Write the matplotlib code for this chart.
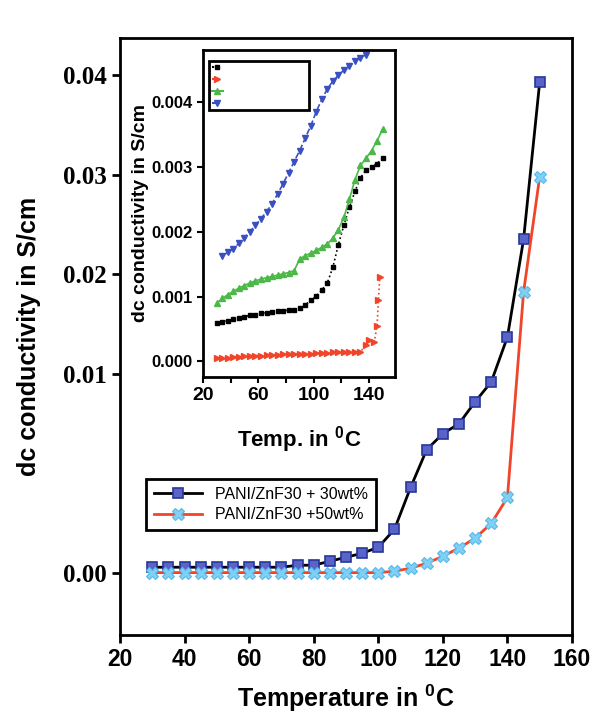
import numpy as np
import matplotlib
matplotlib.use("Agg")
import matplotlib.pyplot as plt
from matplotlib.lines import Line2D

plt.rcParams['mathtext.fontset'] = 'custom'
plt.rcParams['mathtext.bf'] = 'Liberation Sans:bold'
plt.rcParams['mathtext.rm'] = 'Liberation Sans:bold'

# main plot data
temp = [30, 35, 40, 45, 50, 55, 60, 65, 70, 75, 80, 85, 90, 95, 100,
        105, 110, 115, 120, 125, 130, 135, 140, 145, 150]
cond_30 = [0.0003, 0.0003, 0.0003, 0.0003, 0.0003, 0.0003, 0.0003, 0.0003,
           0.0003, 0.0004, 0.0004, 0.0006, 0.0008, 0.0010, 0.0013, 0.0022,
           0.0043, 0.0062, 0.0070, 0.0075, 0.0086, 0.0096, 0.0137, 0.0235,
           0.0393]
cond_50 = [0.00003, 0.00003, 0.00003, 0.00003, 0.00003, 0.00003, 0.00003,
           0.00003, 0.00003, 0.00003, 0.00003, 0.00003, 0.00003, 0.00003,
           0.00003, 0.0001, 0.00025, 0.0005, 0.00085, 0.00126, 0.00176,
           0.0025, 0.0038, 0.0182, 0.0298]
labels_main = ['PANI/ZnF30 + 30wt%', 'PANI/ZnF30 +50wt%']

# inset data
t_blue = [34, 38, 42, 46, 50, 54, 58, 62, 66, 70, 74, 78, 82, 86, 90, 94,
          98, 102, 106, 110, 114, 118, 122, 126, 130, 134, 138]
c_blue = [0.00163, 0.00168, 0.00174, 0.00182, 0.00191, 0.00200, 0.00210,
          0.00220, 0.00231, 0.00243, 0.00258, 0.00274, 0.00291, 0.00308,
          0.00325, 0.00344, 0.00363, 0.00385, 0.00404, 0.00420, 0.00432,
          0.00441, 0.00449, 0.00456, 0.00463, 0.00468, 0.00473]
t_gb = [30, 34, 38, 42, 46, 50, 54, 58, 62, 66, 70, 74, 78, 82, 86, 90, 94,
        98, 102, 106, 110, 114, 118, 122, 126, 130, 134, 138, 142, 146, 150]
c_green = [0.00090, 0.00097, 0.00103, 0.00108, 0.00113, 0.00117, 0.00121,
           0.00124, 0.00127, 0.00129, 0.00131, 0.00133, 0.00135, 0.00137,
           0.00140, 0.00158, 0.00163, 0.00167, 0.00171, 0.00176, 0.00181,
           0.00190, 0.00203, 0.00222, 0.00250, 0.00280, 0.00302, 0.00313,
           0.00325, 0.00340, 0.00358]
c_black = [0.00059, 0.00061, 0.00063, 0.00065, 0.00067, 0.00069, 0.00071,
           0.00072, 0.00074, 0.00075, 0.00076, 0.00077, 0.00078, 0.00079,
           0.00080, 0.00083, 0.00087, 0.00094, 0.00101, 0.00110, 0.00121,
           0.00145, 0.00180, 0.00210, 0.00238, 0.00262, 0.00283, 0.00295,
           0.00300, 0.00305, 0.00313]
t_red = [30, 34, 38, 42, 46, 50, 54, 58, 62, 66, 70, 74, 78, 82, 86, 90, 94,
         98, 102, 106, 110, 114, 118, 122, 126, 130, 134, 138, 140, 144,
         146, 147, 148]
c_red = [0.00005, 0.00006, 0.00006, 0.00007, 0.00007, 0.00008, 0.00008,
         0.00009, 0.00009, 0.00010, 0.00010, 0.00010, 0.00011, 0.00011,
         0.00011, 0.00012, 0.00012, 0.00012, 0.00013, 0.00013, 0.00013,
         0.00014, 0.00014, 0.00014, 0.00015, 0.00015, 0.00015, 0.00025,
         0.00033, 0.00030, 0.00055, 0.00095, 0.00130]


# the reference y axis has a wider step between 0.00 and 0.01
def fwd(y):
    y = np.asarray(y, dtype=float)
    return np.where(y < 0.01, 2 * y, y + 0.01)


def inv(z):
    z = np.asarray(z, dtype=float)
    return np.where(z < 0.02, z / 2, z - 0.01)


fig = plt.figure(figsize=(5.92, 7.22), dpi=100)
ax = fig.add_axes([120 / 592, (722 - 635) / 722, 452 / 592, 597 / 722])
ax.set_yscale('function', functions=(fwd, inv))

ax.plot(temp, cond_30, color='black', lw=2, marker='s', ms=7,
        mfc='#5a64c8', mec='#28379a', mew=1.2, label=labels_main[0])
ax.plot(temp, cond_50, color='#f0452a', lw=2, marker='X', ms=9,
        mfc='#7fd0f4', mec='#5bb8e8', mew=0.8, label=labels_main[1])

ax.set_xlim(20, 160)
ax.set_ylim(-0.0031, 0.0437)
ax.set_xticks([20, 40, 60, 80, 100, 120, 140, 160])
ax.set_yticks([0.0, 0.01, 0.02, 0.03, 0.04])
ax.set_yticklabels(['0.00', '0.01', '0.02', '0.03', '0.04'])
ax.minorticks_off()
for s in ax.spines.values():
    s.set_linewidth(2)
ax.tick_params(direction='out', length=6, width=2)
for lab in ax.get_xticklabels():
    lab.set_family('Liberation Sans')
    lab.set_fontweight('bold')
    lab.set_fontsize(16.5)
for lab in ax.get_yticklabels():
    lab.set_family('Liberation Serif')
    lab.set_fontweight('bold')
    lab.set_fontsize(18)
ax.set_xlabel(r'Temperature in $^{\mathbf{0}}$C', family='Liberation Sans',
              fontweight='bold', fontsize=18, labelpad=8)
ax.set_ylabel('dc conductivity in S/cm', family='Liberation Sans',
              fontweight='bold', fontsize=18, labelpad=16)

leg = ax.legend(loc='lower left', bbox_to_anchor=(0.04, 0.162),
                prop={'family': 'Liberation Sans', 'size': 11.5},
                fancybox=False, edgecolor='black', framealpha=1,
                handlelength=3.0, borderpad=0.5, labelspacing=0.35)
leg.get_frame().set_linewidth(2)

# inset
ins = fig.add_axes([203 / 592, (722 - 377) / 722, 192 / 592, 327 / 722])
ins.plot(t_gb, c_black, color='black', lw=1.2, ls=':', marker='s', ms=3)
ins.plot(t_red, c_red, color='#f0452a', lw=1.2, ls=':', marker='>', ms=4)
ins.plot(t_gb, c_green, color='#4cb848', lw=1.2, marker='^', ms=5)
ins.plot(t_blue, c_blue, color='#3a50c0', lw=1.2, ls='--', marker='v', ms=5)
ins.set_xlim(20, 159)
ins.set_ylim(-0.00024, 0.0048)
ins.set_xticks([20, 40, 60, 80, 100, 120, 140])
ins.set_xticklabels(['20', '', '60', '', '100', '', '140'])
ins.set_yticks([0.0, 0.001, 0.002, 0.003, 0.004])
ins.set_yticklabels(['0.000', '0.001', '0.002', '0.003', '0.004'])
for s in ins.spines.values():
    s.set_linewidth(2)
ins.tick_params(direction='out', length=4, width=1.5)
for lab in ins.get_xticklabels():
    lab.set_family('Liberation Sans')
    lab.set_fontweight('bold')
    lab.set_fontsize(14)
for lab in ins.get_yticklabels():
    lab.set_family('Liberation Sans')
    lab.set_fontweight('bold')
    lab.set_fontsize(12)
ins.set_xlabel(r'Temp. in $^{\mathbf{0}}$C', family='Liberation Sans',
               fontweight='bold', fontsize=16, labelpad=14)
ins.set_ylabel('dc conductivity in S/cm', family='Liberation Sans',
               fontweight='bold', fontsize=14, labelpad=2)

handles = [
    Line2D([], [], color='black', ls=':', marker='s', ms=3),
    Line2D([], [], color='#f0452a', ls=':', marker='>', ms=4),
    Line2D([], [], color='#4cb848', marker='^', ms=5),
    Line2D([], [], color='#3a50c0', ls='--', marker='v', ms=5),
]
ileg = ins.legend(handles, [' ' * 29] * 4, loc='upper left',
                  bbox_to_anchor=(0.01, 0.98), fancybox=False,
                  edgecolor='black', framealpha=1, handlelength=1.4,
                  prop={'size': 6}, borderpad=0.3, labelspacing=0.35)
ileg.get_frame().set_linewidth(2)

fig.savefig('out.png', dpi=100)
